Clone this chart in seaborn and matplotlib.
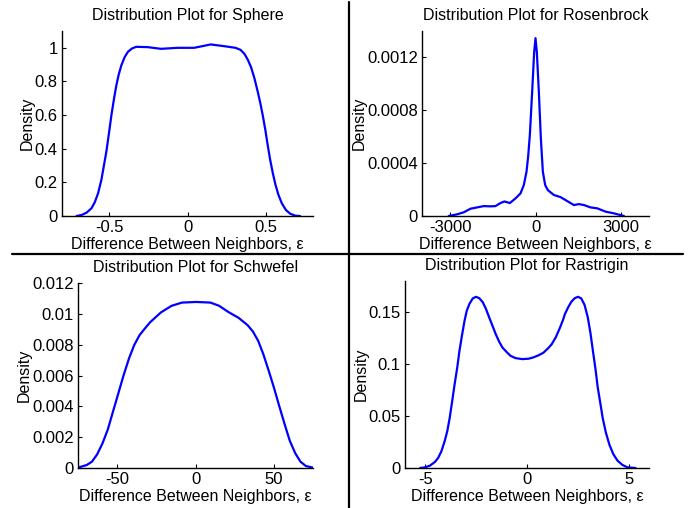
import numpy as np
import pandas as pd
import matplotlib
matplotlib.use("Agg")
import matplotlib.pyplot as plt
import seaborn as sns

sns.set_theme(style="white")
plt.rcParams['font.family'] = ['Liberation Sans', 'DejaVu Sans']
plt.rcParams['axes.unicode_minus'] = False

# ---- data ----
sphere_x = [-0.707, -0.675, -0.643, -0.612, -0.591, -0.570, -0.549, -0.532, -0.517, -0.502,
            -0.485, -0.468, -0.454, -0.439, -0.422, -0.401, -0.380, -0.354, -0.327, -0.253,
            -0.169, -0.063, 0.042, 0.095, 0.148, 0.232, 0.306, 0.338, 0.363, 0.384,
            0.405, 0.426, 0.447, 0.464, 0.481, 0.496, 0.511, 0.527, 0.544, 0.561,
            0.580, 0.601, 0.627, 0.654, 0.686, 0.717]
sphere_y = [0.0, 0.006, 0.020, 0.046, 0.082, 0.135, 0.215, 0.304, 0.384, 0.483,
            0.600, 0.700, 0.775, 0.839, 0.895, 0.944, 0.976, 0.996, 1.006, 1.004,
            0.994, 1.0, 1.0, 1.01, 1.02, 1.01, 1.0, 0.988, 0.964, 0.930,
            0.885, 0.821, 0.742, 0.672, 0.592, 0.513, 0.423, 0.334, 0.254, 0.185,
            0.125, 0.076, 0.036, 0.014, 0.002, 0.0]

rosen_x = [-3058, -2764, -2528, -2293, -2058, -1823, -1588, -1411, -1235, -1094,
           -905, -706, -529, -412, -317, -259, -200, -118, -47, 0,
           47, 118, 188, 259, 341, 435, 647, 882, 1117, 1352,
           1529, 1705, 1940, 2176, 2470, 2764, 3116]
rosen_y = [0.0, 0.0000126, 0.000028, 0.000055, 0.000065, 0.000075, 0.000073, 0.000075, 0.000098, 0.00011,
           0.000098, 0.000133, 0.000171, 0.000234, 0.000335, 0.00045, 0.00061, 0.00094, 0.00124, 0.001346,
           0.00124, 0.00094, 0.00059, 0.000335, 0.000234, 0.000196, 0.000159, 0.000143, 0.000113, 0.000083,
           0.00009, 0.000083, 0.000065, 0.000058, 0.000033, 0.00002, 0.0]

schwefel_x = [-76.3, -72.9, -69.5, -66.1, -62.8, -59.4, -56.0, -52.6, -49.2, -45.8,
              -42.4, -39.1, -35.7, -32.3, -28.9, -22.1, -15.3, -8.6, 0.45, 9.5,
              15.1, 20.8, 27.5, 33.2, 36.6, 40.0, 43.3, 46.7, 50.1, 53.5,
              56.9, 60.2, 63.7, 67.0, 70.4, 76.1]
schwefel_y = [0.0, 0.00009, 0.00019, 0.00041, 0.00088, 0.00159, 0.00249, 0.00368, 0.00486, 0.00605,
              0.00712, 0.00798, 0.00862, 0.00905, 0.00946, 0.01009, 0.01052, 0.01073, 0.01077, 0.01073,
              0.01052, 0.01013, 0.00974, 0.00927, 0.00886, 0.00825, 0.00738, 0.00632, 0.00520, 0.00400,
              0.00284, 0.00176, 0.00095, 0.00041, 0.00013, 0.0]

rastrigin_x = [-5.26, -5.02, -4.77, -4.53, -4.37, -4.21, -4.05, -3.92, -3.80, -3.69,
               -3.56, -3.43, -3.32, -3.20, -3.07, -2.96, -2.83, -2.67, -2.51, -2.35,
               -2.18, -2.02, -1.86, -1.70, -1.54, -1.38, -1.21, -0.97, -0.81, -0.57,
               -0.24, 0.08, 0.32, 0.57, 0.81, 1.05, 1.21, 1.42, 1.62, 1.78,
               1.86, 2.02, 2.18, 2.35, 2.51, 2.67, 2.83, 2.99, 3.12, 3.24,
               3.37, 3.48, 3.61, 3.72, 3.88, 4.05, 4.24, 4.45, 4.69, 4.94,
               5.34]
rastrigin_y = [0.0, 0.0006, 0.0023, 0.0058, 0.0097, 0.0161, 0.0258, 0.0355, 0.0484, 0.0629,
               0.0806, 0.0968, 0.113, 0.1274, 0.1419, 0.1516, 0.158, 0.1632, 0.1648, 0.1635,
               0.1597, 0.1532, 0.145, 0.137, 0.129, 0.122, 0.116, 0.111, 0.108, 0.1058,
               0.1048, 0.1052, 0.1065, 0.1085, 0.111, 0.1155, 0.119, 0.126, 0.135, 0.143,
               0.148, 0.1545, 0.1600, 0.1635, 0.1648, 0.1632, 0.157, 0.145, 0.130, 0.113,
               0.095, 0.0774, 0.062, 0.0484, 0.034, 0.0226, 0.0135, 0.0071, 0.003, 0.0006,
               0.0]

titles = ["Distribution Plot for Sphere", "Distribution Plot for Rosenbrock",
          "Distribution Plot for Schwefel", "Distribution Plot for Rastrigin"]
xlabel = "Difference Between Neighbors, \u03b5"
ylabel = "Density"

sphere_xticks = [-0.5, 0, 0.5]
sphere_xticklabels = ["-0.5", "0", "0.5"]
sphere_yticks = [0, 0.2, 0.4, 0.6, 0.8, 1.0]
sphere_yticklabels = ["0", "0.2", "0.4", "0.6", "0.8", "1"]

rosen_xticks = [-3000, 0, 3000]
rosen_xticklabels = ["-3000", "0", "3000"]
rosen_yticks = [0, 0.0004, 0.0008, 0.0012]
rosen_yticklabels = ["0", "0.0004", "0.0008", "0.0012"]

schwefel_xticks = [-50, 0, 50]
schwefel_xticklabels = ["-50", "0", "50"]
schwefel_yticks = [0, 0.002, 0.004, 0.006, 0.008, 0.01, 0.012]
schwefel_yticklabels = ["0", "0.002", "0.004", "0.006", "0.008", "0.01", "0.012"]

rastrigin_xticks = [-5, 0, 5]
rastrigin_xticklabels = ["-5", "0", "5"]
rastrigin_yticks = [0, 0.05, 0.1, 0.15]
rastrigin_yticklabels = ["0", "0.05", "0.1", "0.15"]

W, H = 696, 508
fig = plt.figure(figsize=(W / 100, H / 100), dpi=100)

def px_axes(l, t, r, b):
    return fig.add_axes([l / W, 1 - b / H, (r - l) / W, (b - t) / H])

panels = [
    dict(box=(62, 31, 313, 216), x=sphere_x, y=sphere_y, xlim=(-0.8, 0.8), ylim=(0, 1.1),
         xt=sphere_xticks, xtl=sphere_xticklabels, yt=sphere_yticks, ytl=sphere_yticklabels),
    dict(box=(422, 31, 649, 216), x=rosen_x, y=rosen_y, xlim=(-4000, 4000), ylim=(0, 0.0014),
         xt=rosen_xticks, xtl=rosen_xticklabels, yt=rosen_yticks, ytl=rosen_yticklabels),
    dict(box=(78, 283, 313, 468), x=schwefel_x, y=schwefel_y, xlim=(-75, 75), ylim=(0, 0.012),
         xt=schwefel_xticks, xtl=schwefel_xticklabels, yt=schwefel_yticks, ytl=schwefel_yticklabels),
    dict(box=(405, 281, 649, 468), x=rastrigin_x, y=rastrigin_y, xlim=(-6, 6), ylim=(0, 0.18),
         xt=rastrigin_xticks, xtl=rastrigin_xticklabels, yt=rastrigin_yticks, ytl=rastrigin_yticklabels),
]

for p, title in zip(panels, titles):
    ax = px_axes(*p["box"])
    df = pd.DataFrame({"x": p["x"], "y": p["y"]})
    sns.lineplot(data=df, x="x", y="y", ax=ax, color="#0000ff", linewidth=1.6, sort=False)
    ax.set_xlim(*p["xlim"])
    ax.set_ylim(*p["ylim"])
    ax.set_xticks(p["xt"])
    ax.set_xticklabels(p["xtl"])
    ax.set_yticks(p["yt"])
    ax.set_yticklabels(p["ytl"])
    ax.set_title(title, fontsize=11.5, pad=8, color="black")
    ax.set_xlabel(xlabel, fontsize=11.5, labelpad=1, color="black")
    ax.set_ylabel(ylabel, fontsize=11.5, labelpad=0, color="black")
    for s in ["top", "right"]:
        ax.spines[s].set_visible(False)
    for s in ["left", "bottom"]:
        ax.spines[s].set_color("black")
        ax.spines[s].set_linewidth(1.0)
    ax.tick_params(axis="both", direction="in", length=3, width=0.8, labelsize=12,
                   colors="black", pad=3, left=True, bottom=True)
    ax.set_facecolor("white")

# divider lines
fig.add_artist(plt.Line2D([348.5 / W, 348.5 / W], [0, 1 - 2 / H], color="black", linewidth=1.6))
fig.add_artist(plt.Line2D([12 / W, 683 / W], [1 - 254 / H, 1 - 254 / H], color="black", linewidth=1.6))

fig.savefig("out.png", dpi=100, facecolor="white")
